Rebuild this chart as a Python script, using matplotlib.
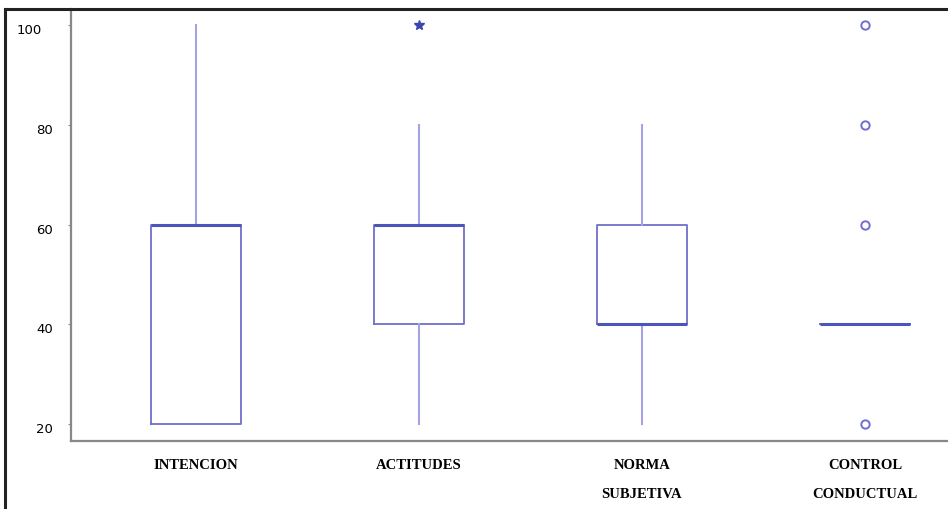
import matplotlib.pyplot as plt
from matplotlib.lines import Line2D
from matplotlib.transforms import ScaledTranslation

# box plot summary values
labels = ['INTENCION', 'ACTITUDES', 'NORMA\nSUBJETIVA', 'CONTROL\nCONDUCTUAL']
q1 = [20, 40, 40, 40]
median = [60, 60, 40, 40]
q3 = [60, 60, 60, 40]
whis_lo = [20, 20, 20, 40]
whis_hi = [100, 80, 80, 40]
outliers = [[], [], [], [20, 60, 80, 100]]
extremes = [[], [100], [], []]

box_col = '#6f6fcc'
whisk_col = '#a3a3e6'
med_col = '#4b55bb'

fig = plt.figure(figsize=(9.48, 5.09), dpi=100)
ax = fig.add_axes([71 / 948, 1 - 441 / 509, 1 - 71 / 948, (441 - 9) / 509])

stats = []
for i in range(len(labels)):
    stats.append({'q1': q1[i], 'med': median[i], 'q3': q3[i],
                  'whislo': whis_lo[i], 'whishi': whis_hi[i],
                  'fliers': outliers[i]})

ax.bxp(stats, positions=range(1, 5), widths=0.4, showcaps=False,
       boxprops=dict(color=box_col, linewidth=1.3),
       whiskerprops=dict(color=whisk_col, linewidth=1.5),
       medianprops=dict(color=med_col, linewidth=2.2),
       flierprops=dict(marker='o', markerfacecolor='white', markeredgecolor=box_col,
                       markersize=6, markeredgewidth=1.4))

for i, ex in enumerate(extremes):
    if ex:
        ax.plot([i + 1] * len(ex), ex, linestyle='none', marker='*', color='#3c46b0',
                markersize=7)

ax.set_xlim(0.44, 4.372)
ax.set_ylim(16.6, 103.2)
ax.set_yticks([20, 40, 60, 80, 100])
ax.set_xticks(range(1, 5))
ax.set_xticklabels(labels, fontfamily='Liberation Serif', fontweight='bold', fontsize=10.5,
                   linespacing=2.6)
ax.tick_params(axis='x', length=0, pad=13)
ax.tick_params(axis='y', length=2, width=0.8, color='#888888', pad=11)
for lbl in ax.get_yticklabels():
    lbl.set_fontfamily('DejaVu Sans')
    lbl.set_fontsize(9.5)
    # labels sit a little below their ticks in the original
    lbl.set_transform(lbl.get_transform() + ScaledTranslation(0, -3 / 72, fig.dpi_scale_trans))
ylbls = ax.get_yticklabels()
ylbls[-1].set_transform(ylbls[-1].get_transform() + ScaledTranslation(-8 / 72, 0, fig.dpi_scale_trans))

for s in ['top', 'right']:
    ax.spines[s].set_visible(False)
for s in ['left', 'bottom']:
    ax.spines[s].set_color('#888888')
    ax.spines[s].set_linewidth(1.6)

# outer frame of the picture
fig.add_artist(Line2D([5 / 948, 5 / 948], [0, 1 - 8.5 / 509], color='#222222', linewidth=2.2))
fig.add_artist(Line2D([5 / 948, 1], [1 - 8.5 / 509, 1 - 8.5 / 509], color='#222222', linewidth=2.2))

fig.savefig('out.png', dpi=100)
